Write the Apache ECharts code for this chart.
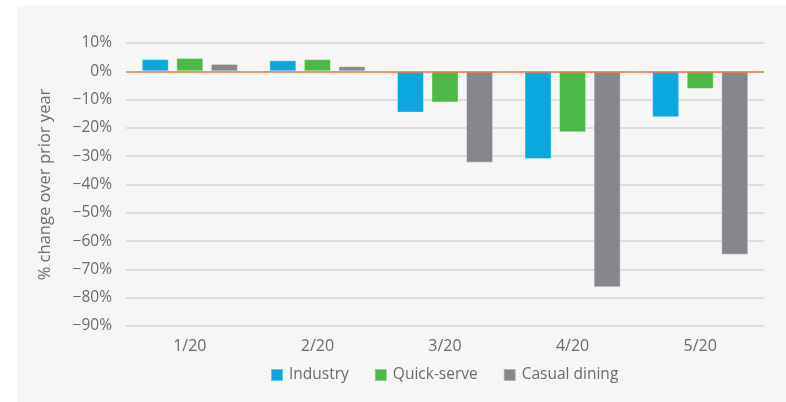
<!DOCTYPE html>
<html>
<head>
<meta charset="utf-8">
<script src="https://cdn.jsdelivr.net/npm/echarts@6/dist/echarts.min.js"></script>
<style>
  html, body { margin: 0; padding: 0; background: #ffffff; }
  #panel { position: absolute; left: 17px; top: 6px; right: 0; bottom: 0; background: #f6f6f6; }
  #chart { position: absolute; left: 0; top: 0; width: 786px; height: 402px; }
</style>
</head>
<body>
<div id="panel"></div>
<div id="chart"></div>
<script>
const categories = ['1/20', '2/20', '3/20', '4/20', '5/20'];
const industry = [4.3, 3.9, -14.6, -31.0, -16.2];
const quickServe = [4.7, 4.3, -11.0, -21.5, -6.2];
const casualDining = [2.6, 1.8, -32.3, -76.3, -64.8];
const seriesNames = ['Industry', 'Quick-serve', 'Casual dining'];
const colors = ['#0aa8df', '#4cb848', '#86878a'];

const font = '"Open Sans", "Noto Sans", sans-serif';
const chart = echarts.init(document.getElementById('chart'), null, { renderer: 'canvas' });

function bar(name, data, color, withZero) {
  const s = {
    name: name,
    type: 'bar',
    data: data,
    barWidth: 27,
    barGap: '28%',
    itemStyle: { color: color, borderColor: 'rgba(255,255,255,0.35)', borderWidth: 1 },
    emphasis: { disabled: true }
  };
  if (withZero) {
    s.markLine = {
      silent: true,
      symbol: ['none', 'none'],
      label: { show: false },
      lineStyle: { color: '#ee7a3c', width: 1.5, type: 'solid' },
      data: [{ yAxis: 0 }],
      animation: false
    };
  }
  return s;
}

chart.setOption({
  backgroundColor: 'transparent',
  animation: false,
  color: colors,
  textStyle: { fontFamily: font },
  grid: { left: 126, right: 22, top: 43, bottom: 76 },
  legend: {
    top: 367,
    left: 270,
    padding: 0,
    itemWidth: 12,
    itemHeight: 12,
    itemGap: 25,
    icon: 'rect',
    textStyle: { color: '#6b6b6b', fontSize: 15.5, fontFamily: font, padding: [0, 0, 0, 1] },
    data: seriesNames
  },
  xAxis: {
    type: 'category',
    data: categories,
    axisLine: { show: false },
    axisTick: { show: false },
    axisLabel: { color: '#6b6b6b', fontSize: 16, margin: 12, fontFamily: font }
  },
  yAxis: {
    type: 'value',
    min: -90,
    max: 10,
    interval: 10,
    name: '% change over prior year',
    nameLocation: 'middle',
    nameGap: 72,
    nameRotate: 90,
    nameTextStyle: { color: '#6b6b6b', fontSize: 16.5, fontFamily: font },
    axisLine: { show: false },
    axisTick: { show: false },
    axisLabel: {
      color: '#6b6b6b', fontSize: 15.5, margin: 14, fontFamily: font,
      formatter: v => (v < 0 ? '\u2212' + Math.abs(v) : v) + '%'
    },
    splitLine: { lineStyle: { color: '#d5d5d5', width: 1.5 } }
  },
  series: [
    bar(seriesNames[0], industry, colors[0], false),
    bar(seriesNames[1], quickServe, colors[1], false),
    bar(seriesNames[2], casualDining, colors[2], true)
  ]
});
</script>
</body>
</html>
